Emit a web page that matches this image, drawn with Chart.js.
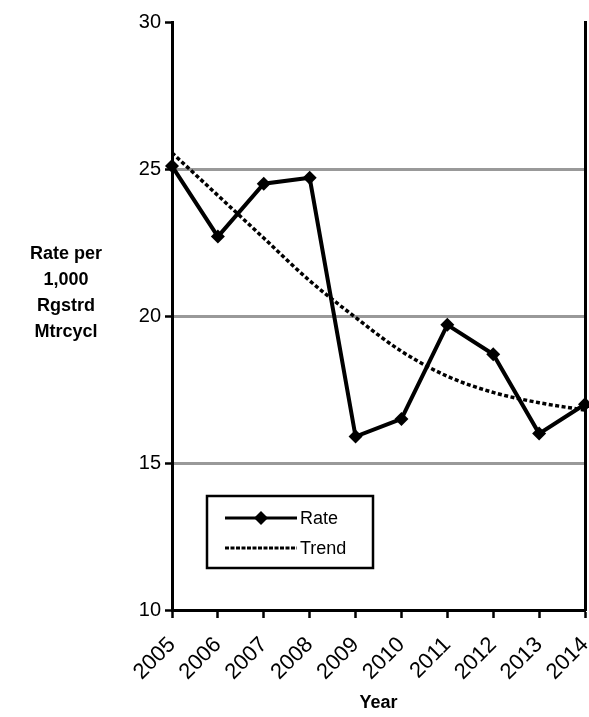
<!DOCTYPE html>
<html>
<head>
<meta charset="utf-8">
<script src="https://cdn.jsdelivr.net/npm/chart.js@4.4.1/dist/chart.umd.min.js"></script>
<style>
  body { margin: 0; background: #fff; }
  #wrap { position: relative; width: 589px; height: 717px; }
  #ytitle {
    position: absolute; left: 8px; top: 240px; width: 116px;
    text-align: center; font: bold 18px "Liberation Sans", Arial, sans-serif;
    line-height: 26px; color: #000;
  }
</style>
</head>
<body>
<div id="wrap">
  <canvas id="chart" width="589" height="717"></canvas>
  <div id="ytitle">Rate per<br>1,000<br>Rgstrd<br>Mtrcycl</div>
</div>
<script>
// chart data
const years = ["2005", "2006", "2007", "2008", "2009", "2010", "2011", "2012", "2013", "2014"];
const rateValues = [25.1, 22.7, 24.5, 24.7, 15.9, 16.5, 19.7, 18.7, 16.0, 17.0];
const trendValues = [25.55, 24.1, 22.65, 21.2, 19.95, 18.8, 17.95, 17.4, 17.05, 16.8];
const yTicks = [10, 15, 20, 25, 30];
const gridValues = [15, 20, 25];

const FONT = "'Liberation Sans', Arial, sans-serif";

// legend drawn inside the plot, like the original
const boxLegend = {
  id: "boxLegend",
  afterDraw(chart) {
    const ctx = chart.ctx;
    const x = 207, y = 496, w = 166, h = 72;
    ctx.save();
    ctx.fillStyle = "#fff";
    ctx.fillRect(x, y, w, h);
    ctx.strokeStyle = "#000";
    ctx.lineWidth = 2.5;
    ctx.strokeRect(x, y, w, h);

    ctx.font = "18px " + FONT;
    ctx.textBaseline = "middle";
    ctx.fillStyle = "#000";

    // Rate row
    const r1 = y + 22;
    ctx.lineWidth = 3;
    ctx.beginPath();
    ctx.moveTo(x + 18, r1);
    ctx.lineTo(x + 90, r1);
    ctx.stroke();
    ctx.beginPath();
    ctx.moveTo(x + 54, r1 - 7);
    ctx.lineTo(x + 61, r1);
    ctx.lineTo(x + 54, r1 + 7);
    ctx.lineTo(x + 47, r1);
    ctx.closePath();
    ctx.fill();
    ctx.fillText(chart.data.datasets[0].label, x + 93, r1 + 1);

    // Trend row
    const r2 = y + 52;
    ctx.setLineDash([4, 1.5]);
    ctx.beginPath();
    ctx.moveTo(x + 18, r2);
    ctx.lineTo(x + 90, r2);
    ctx.stroke();
    ctx.setLineDash([]);
    ctx.fillText(chart.data.datasets[1].label, x + 93, r2 + 1);
    ctx.restore();
  }
};

new Chart(document.getElementById("chart"), {
  type: "line",
  data: {
    labels: years,
    datasets: [
      {
        label: "Rate",
        data: rateValues,
        borderColor: "#000",
        backgroundColor: "#000",
        borderWidth: 4,
        pointStyle: "rectRot",
        pointRadius: 7,
        pointBackgroundColor: "#000",
        pointBorderWidth: 0,
        tension: 0,
        clip: false,
        order: 1
      },
      {
        label: "Trend",
        data: trendValues,
        borderColor: "#000",
        borderWidth: 3.5,
        borderDash: [4, 2.5],
        pointRadius: 0,
        cubicInterpolationMode: "monotone",
        clip: false,
        order: 2
      }
    ]
  },
  options: {
    responsive: false,
    animation: false,
    layout: { autoPadding: false, padding: { left: 120, right: 4, top: 22, bottom: 3 } },
    plugins: {
      legend: { display: false },
      tooltip: { enabled: false }
    },
    scales: {
      x: {
        type: "category",
        offset: false,
        grid: {
          drawOnChartArea: false,
          tickColor: "#000",
          tickLength: 8,
          tickWidth: 2.5
        },
        border: { color: "#000", width: 3 },
        ticks: {
          color: "#000",
          font: { family: FONT, size: 22 },
          maxRotation: 45,
          minRotation: 45,
          autoSkip: false,
          padding: 14
        },
        title: {
          display: true,
          text: "Year",
          color: "#000",
          font: { family: FONT, size: 18, weight: "bold" },
          padding: { top: 0, bottom: 0 }
        },
        afterFit(scale) {
          scale.height = 104;
          scale.paddingLeft = 0;
          scale.paddingRight = 0;
        }
      },
      y: {
        min: 10,
        max: 30,
        afterBuildTicks(scale) { scale.ticks = yTicks.map((v) => ({ value: v })); },
        grid: {
          color: (c) => (c.tick && gridValues.includes(c.tick.value) ? "#999" : "rgba(0,0,0,0)"),
          lineWidth: 3,
          tickColor: "#000",
          tickLength: 7,
          tickWidth: 2.5
        },
        border: { color: "#000", width: 3 },
        ticks: {
          color: "#000",
          font: { family: FONT, size: 20 },
          padding: 4
        },
        afterFit(scale) {
          scale.width = 52;
          scale.paddingTop = 0;
          scale.paddingBottom = 0;
        }
      },
      y2: {
        position: "right",
        min: 10,
        max: 30,
        grid: { display: false },
        ticks: { display: false },
        border: { color: "#000", width: 3 },
        afterFit(scale) { scale.width = 0; }
      }
    }
  },
  plugins: [boxLegend]
});
</script>
</body>
</html>
